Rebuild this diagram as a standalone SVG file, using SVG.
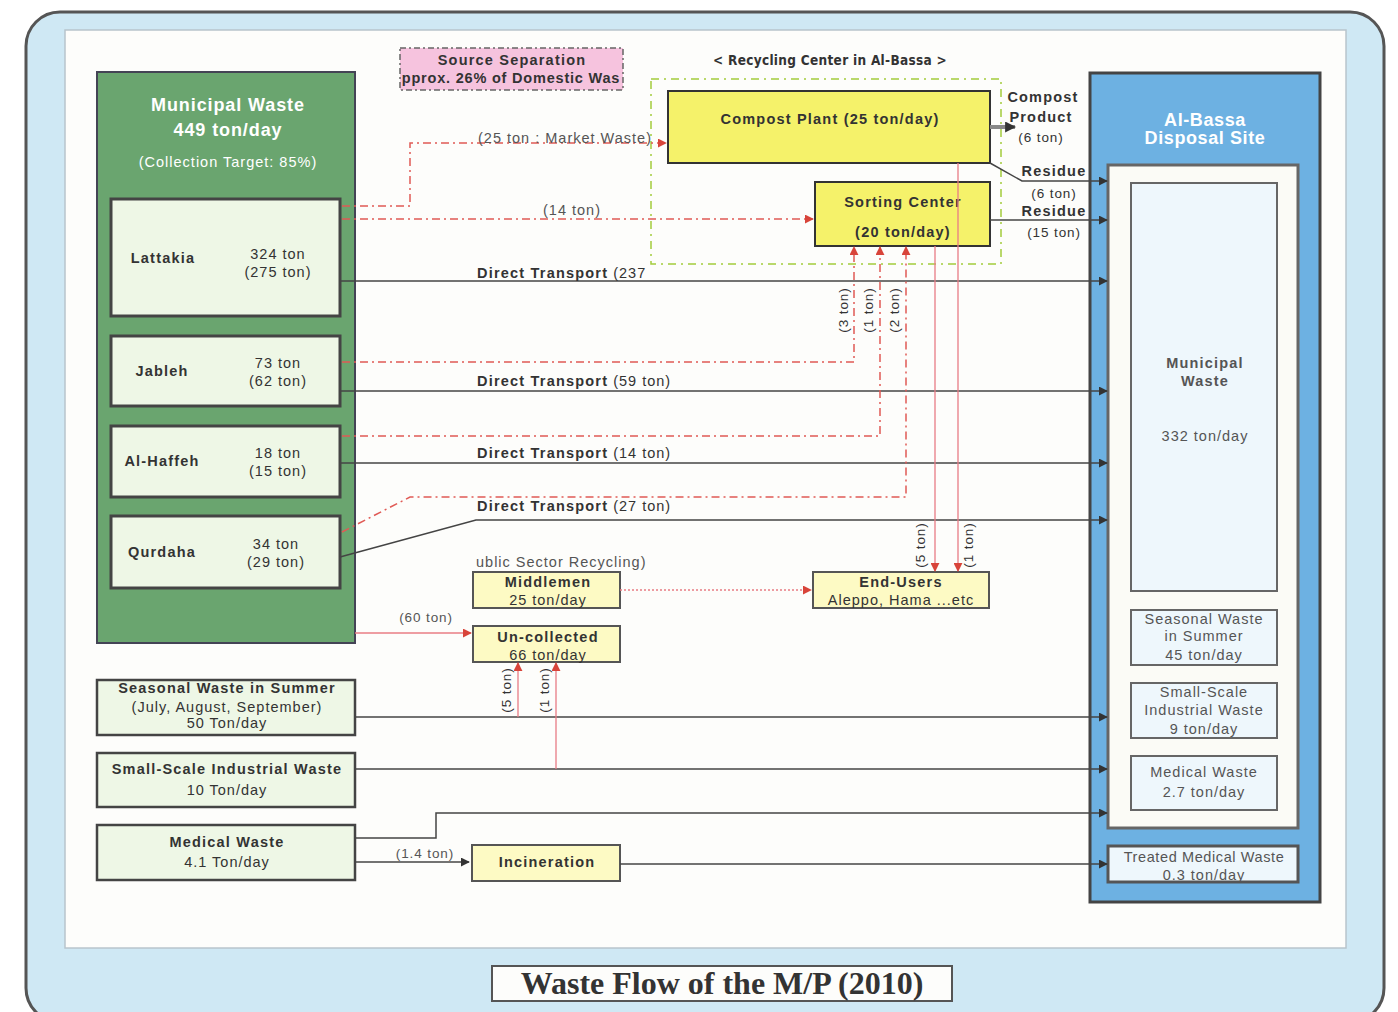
<svg xmlns="http://www.w3.org/2000/svg" width="1398" height="1012" viewBox="0 0 1398 1012">
<defs>
<marker id="ar" viewBox="0 0 10 10" refX="9" refY="5" markerWidth="9" markerHeight="9" markerUnits="userSpaceOnUse" orient="auto"><path d="M0,0 L10,5 L0,10 z" fill="#d8443a"/></marker>
<marker id="ad" viewBox="0 0 10 10" refX="9" refY="5" markerWidth="9" markerHeight="9" markerUnits="userSpaceOnUse" orient="auto"><path d="M0,0 L10,5 L0,10 z" fill="#333"/></marker>
<marker id="ag" viewBox="0 0 10 10" refX="9" refY="5" markerWidth="11" markerHeight="11" markerUnits="userSpaceOnUse" orient="auto"><path d="M0,0 L10,5 L0,10 z" fill="#333"/></marker>
<clipPath id="srcclip"><rect x="400" y="48" width="223" height="42"/></clipPath>
</defs>
<style>
text{font-family:"Liberation Sans",Arial,sans-serif;fill:#333;letter-spacing:1px;}
.b{font-weight:bold;letter-spacing:1.2px;}
.c{text-anchor:middle;}
.w{fill:#fff;font-weight:bold;}
.gb{fill:#eef7e6;stroke:#444;stroke-width:3;}
.yb{fill:#f5f26a;stroke:#333;stroke-width:2;}
.ly{fill:#fdfac4;stroke:#555;stroke-width:2;}
.bb{fill:#eef7fc;stroke:#666;stroke-width:2;}
.sl{fill:none;stroke:#444;stroke-width:1.5;}
.rd{fill:none;stroke:#e05a55;stroke-width:1.5;stroke-dasharray:8 4 2 4;}
.rp{fill:none;stroke:#e87c84;stroke-width:1.3;}
.rdot{fill:none;stroke:#e87c84;stroke-width:1.3;stroke-dasharray:2 2;}
.s13{font-size:13.5px;letter-spacing:0.9px;}
.s14{font-size:14.5px;}
.g5{fill:#555;}
</style>
<rect x="26" y="12" width="1358" height="1010" rx="34" fill="#cfe8f4" stroke="#555" stroke-width="3"/>
<rect x="65" y="30" width="1281" height="918" fill="#fdfdfb" stroke="#b8c4cc" stroke-width="1.5"/>

<g id="title">
<rect x="492" y="966" width="460" height="35" fill="#fdfdfb" stroke="#555" stroke-width="2"/>
<text x="722" y="994" class="c" style="font-family:'Liberation Serif','Times New Roman',serif;font-weight:bold;font-size:32px;letter-spacing:0;">Waste Flow of the M/P (2010)</text>
</g>

<g id="municipal-waste">
<rect x="97" y="72" width="258" height="571" fill="#6aa56f" stroke="#445" stroke-width="2"/>
<text x="228" y="111" class="w c" style="font-size:18px;letter-spacing:0.9px">Municipal Waste</text>
<text x="228" y="136" class="w c" style="font-size:18px;letter-spacing:0.9px">449 ton/day</text>
<text x="228" y="167" class="c s14" style="fill:#fff">(Collection Target: 85%)</text>
</g>
<g id="lattakia">
<rect x="111" y="199" width="229" height="117" class="gb"/>
<text x="163" y="263" class="b c s14">Lattakia</text>
<text x="278" y="259" class="c s14">324 ton</text>
<text x="278" y="277" class="c s14">(275 ton)</text>
</g>
<g id="jableh">
<rect x="111" y="336" width="229" height="70" class="gb"/>
<text x="162" y="376" class="b c s14">Jableh</text>
<text x="278" y="368" class="c s14">73 ton</text>
<text x="278" y="386" class="c s14">(62 ton)</text>
</g>
<g id="alhaffeh">
<rect x="111" y="426" width="229" height="71" class="gb"/>
<text x="162" y="466" class="b c s14">Al-Haffeh</text>
<text x="278" y="458" class="c s14">18 ton</text>
<text x="278" y="476" class="c s14">(15 ton)</text>
</g>
<g id="qurdaha">
<rect x="111" y="516" width="229" height="72" class="gb"/>
<text x="162" y="557" class="b c s14">Qurdaha</text>
<text x="276" y="549" class="c s14">34 ton</text>
<text x="276" y="567" class="c s14">(29 ton)</text>
</g>

<g id="seasonal-src">
<rect x="97" y="680" width="258" height="55" class="gb" style="stroke-width:2.5"/>
<text x="227" y="693" class="b c s14">Seasonal Waste in Summer</text>
<text x="227" y="712" class="c s14">(July, August, September)</text>
<text x="227" y="728" class="c s14">50 Ton/day</text>
</g>
<g id="industrial-src">
<rect x="97" y="753" width="258" height="54" class="gb" style="stroke-width:2.5"/>
<text x="227" y="774" class="b c s14">Small-Scale Industrial Waste</text>
<text x="227" y="795" class="c s14">10 Ton/day</text>
</g>
<g id="medical-src">
<rect x="97" y="825" width="258" height="55" class="gb" style="stroke-width:2.5"/>
<text x="227" y="847" class="b c s14">Medical Waste</text>
<text x="227" y="867" class="c s14">4.1 Ton/day</text>
</g>

<g id="source-separation">
<rect x="400" y="48" width="223" height="42" fill="#f6c3de" stroke="#666" stroke-width="1.5" stroke-dasharray="6 3 2 3"/>
<g clip-path="url(#srcclip)">
<text x="512" y="65" class="b c s14">Source Separation</text>
<text x="511" y="83" class="c s14" style="font-weight:bold;letter-spacing:0.8px">pprox. 26% of Domestic Was</text>
</g>
</g>

<g id="recycling-center">
<text x="830" y="65" class="b c" style="font-size:13.5px;letter-spacing:0.3px;font-family:'DejaVu Sans Condensed','Liberation Sans Narrow',sans-serif;">&lt; Recycling Center in Al-Bassa &gt;</text>
<rect x="651" y="79" width="350" height="185" fill="none" stroke="#a3cc3c" stroke-width="1.5" stroke-dasharray="8 5 2 5"/>
</g>
<g id="compost-plant">
<rect x="668" y="91" width="322" height="72" class="yb"/>
<text x="830" y="124" class="b c s14">Compost Plant  (25 ton/day)</text>
</g>
<g id="sorting-center">
<rect x="815" y="182" width="175" height="64" class="yb"/>
<text x="903" y="207" class="b c s14">Sorting Center</text>
<text x="903" y="237" class="b c s14">(20 ton/day)</text>
</g>

<g id="middlemen">
<text x="476" y="567" class="s14 g5">ublic Sector Recycling)</text>
<rect x="473" y="572" width="147" height="36" class="ly"/>
<text x="548" y="587" class="b c s14">Middlemen</text>
<text x="548" y="605" class="c s14">25 ton/day</text>
</g>
<g id="end-users">
<rect x="813" y="572" width="176" height="36" class="ly"/>
<text x="901" y="587" class="b c s14">End-Users</text>
<text x="901" y="605" class="c s14">Aleppo, Hama ...etc</text>
</g>
<g id="uncollected">
<rect x="473" y="626" width="147" height="36" class="ly"/>
<text x="548" y="642" class="b c s14">Un-collected</text>
<text x="548" y="660" class="c s14">66 ton/day</text>
</g>
<g id="incineration">
<rect x="472" y="845" width="148" height="36" class="ly"/>
<text x="547" y="867" class="b c s14">Incineration</text>
</g>

<g id="disposal-site">
<rect x="1090" y="73" width="230" height="829" fill="#6db1e2" stroke="#444" stroke-width="3"/>
<text x="1205" y="126" class="w c" style="font-size:18px;letter-spacing:0.6px">Al-Bassa</text>
<text x="1205" y="144" class="w c" style="font-size:18px;letter-spacing:0.6px">Disposal Site</text>
<rect x="1108" y="165" width="190" height="663" fill="#fbfbf6" stroke="#666" stroke-width="3"/>
<rect x="1131" y="183" width="146" height="408" class="bb"/>
<text x="1205" y="368" class="b c s14 g5">Municipal</text>
<text x="1205" y="386" class="b c s14 g5">Waste</text>
<text x="1205" y="441" class="c s14 g5">332 ton/day</text>
<rect x="1131" y="610" width="146" height="55" class="bb"/>
<text x="1204" y="624" class="c s14 g5">Seasonal Waste</text>
<text x="1204" y="641" class="c s14 g5">in Summer</text>
<text x="1204" y="660" class="c s14 g5">45 ton/day</text>
<rect x="1131" y="683" width="146" height="55" class="bb"/>
<text x="1204" y="697" class="c s14 g5">Small-Scale</text>
<text x="1204" y="715" class="c s14 g5">Industrial Waste</text>
<text x="1204" y="734" class="c s14 g5">9 ton/day</text>
<rect x="1131" y="756" width="146" height="54" class="bb"/>
<text x="1204" y="777" class="c s14 g5">Medical Waste</text>
<text x="1204" y="797" class="c s14 g5">2.7 ton/day</text>
<rect x="1108" y="846" width="190" height="36" fill="#eef7fc" stroke="#555" stroke-width="3"/>
<text x="1204" y="862" class="c s14 g5" style="letter-spacing:0.6px">Treated Medical Waste</text>
<text x="1204" y="880" class="c s14 g5">0.3 ton/day</text>
</g>

<g id="connectors">
<path d="M990,163 L1022,181 L1107,181" class="sl" marker-end="url(#ad)"/>
<path d="M990,220 L1107,220" class="sl" marker-end="url(#ad)"/>
<path d="M340,281 L1107,281" class="sl" marker-end="url(#ad)"/>
<path d="M340,391 L1107,391" class="sl" marker-end="url(#ad)"/>
<path d="M340,463 L1107,463" class="sl" marker-end="url(#ad)"/>
<path d="M340,557 L476,520 L1107,520" class="sl" marker-end="url(#ad)"/>
<path d="M355,717 L1107,717" class="sl" marker-end="url(#ad)"/>
<path d="M355,769 L1107,769" class="sl" marker-end="url(#ad)"/>
<path d="M355,838 L436,838 L436,813 L1107,813" class="sl" marker-end="url(#ad)"/>
<path d="M355,862 L469,862" class="sl" marker-end="url(#ad)"/>
<path d="M620,864 L1107,864" class="sl" marker-end="url(#ad)"/>
<path d="M990,127 L1015,127" fill="none" stroke="#888" stroke-width="4" marker-end="url(#ag)"/>
<path d="M342,206 L410,206 L410,143 L666,143" class="rd" marker-end="url(#ar)"/>
<path d="M342,219 L813,219" class="rd" marker-end="url(#ar)"/>
<path d="M342,362 L854,362 L854,247" class="rd" marker-end="url(#ar)"/>
<path d="M342,436 L880,436 L880,247" class="rd" marker-end="url(#ar)"/>
<path d="M342,532 L410,497 L906,497 L906,247" class="rd" marker-end="url(#ar)"/>
<path d="M935,246 L935,571" class="rp" marker-end="url(#ar)"/>
<path d="M958,163 L958,571" class="rp" marker-end="url(#ar)"/>
<path d="M355,633 L471,633" class="rp" marker-end="url(#ar)"/>
<path d="M518,717 L518,663" class="rp" marker-end="url(#ar)"/>
<path d="M556,769 L556,663" class="rp" marker-end="url(#ar)"/>
<path d="M620,590 L811,590" class="rdot" marker-end="url(#ar)"/>
</g>

<g id="labels">
<text x="565" y="143" class="c s14 g5">(25 ton : Market Waste)</text>
<text x="572" y="215" class="c s14 g5">(14 ton)</text>
<text x="477" y="278" class="s14"><tspan class="b">Direct Transport</tspan> (237</text>
<text x="477" y="386" class="s14"><tspan class="b">Direct Transport</tspan> (59 ton)</text>
<text x="477" y="458" class="s14"><tspan class="b">Direct Transport</tspan> (14 ton)</text>
<text x="477" y="511" class="s14"><tspan class="b">Direct Transport</tspan> (27 ton)</text>
<text transform="translate(848,310) rotate(-90)" class="c s13">(3 ton)</text>
<text transform="translate(873,310) rotate(-90)" class="c s13">(1 ton)</text>
<text transform="translate(899,310) rotate(-90)" class="c s13">(2 ton)</text>
<text transform="translate(925,545) rotate(-90)" class="c s13">(5 ton)</text>
<text transform="translate(973,545) rotate(-90)" class="c s13">(1 ton)</text>
<text transform="translate(511,690) rotate(-90)" class="c s13">(5 ton)</text>
<text transform="translate(549,690) rotate(-90)" class="c s13">(1 ton)</text>
<text x="426" y="622" class="c s13 g5">(60 ton)</text>
<text x="425" y="858" class="c s13 g5">(1.4 ton)</text>
<text x="1043" y="102" class="b c s14">Compost</text>
<text x="1041" y="122" class="b c s14">Product</text>
<text x="1041" y="142" class="c s13">(6 ton)</text>
<text x="1054" y="176" class="b c s14">Residue</text>
<text x="1054" y="198" class="c s13">(6 ton)</text>
<text x="1054" y="216" class="b c s14">Residue</text>
<text x="1054" y="237" class="c s13">(15 ton)</text>
</g>
</svg>
